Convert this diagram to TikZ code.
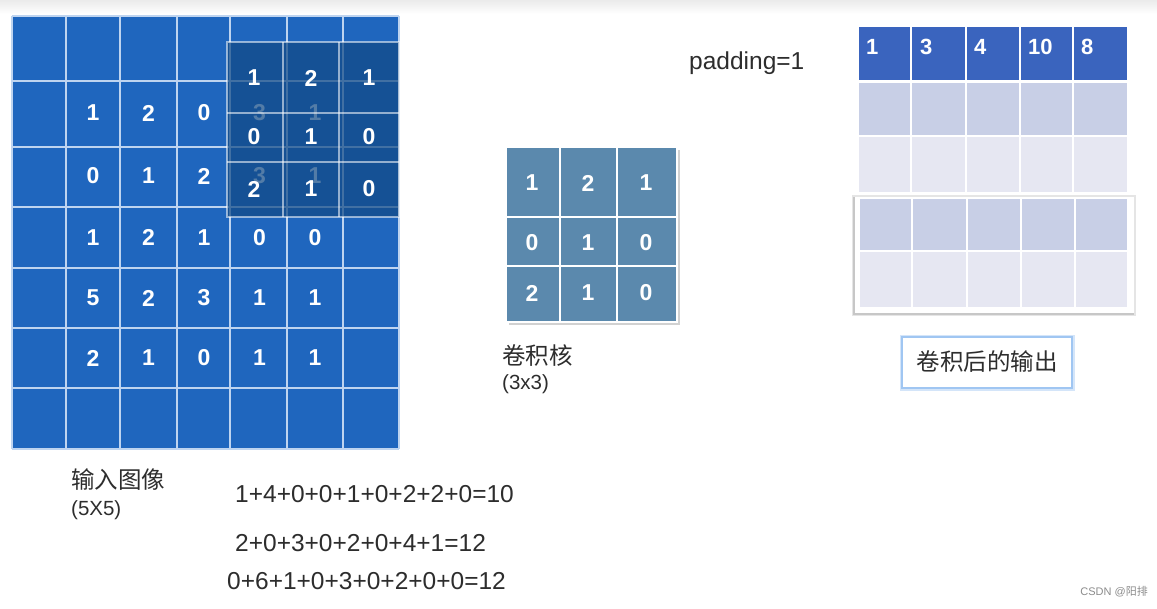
\documentclass[tikz,border=0pt]{standalone}
\usepackage{fontspec}
\setmainfont{Liberation Sans}
\newfontfamily\cjk{Noto Sans CJK SC}
\usetikzlibrary{positioning}

\definecolor{imgblue}{RGB}{31,102,190}
\definecolor{gridline}{RGB}{190,212,240}
\definecolor{kerdark}{RGB}{18,74,134}
\definecolor{kerblue}{RGB}{91,137,173}
\definecolor{outtop}{RGB}{58,100,190}
\definecolor{outmid}{RGB}{200,207,230}
\definecolor{outlow}{RGB}{230,231,242}
\definecolor{txtgray}{RGB}{45,45,45}
\definecolor{glow}{RGB}{160,198,242}

\tikzset{
  numero/.style={text=white, font=\fontsize{23}{26}\selectfont\bfseries, inner sep=0pt},
  outnum/.style={numero, anchor=west, font=\fontsize{22}{25}\selectfont\bfseries},
  etiqueta/.style={text=txtgray, anchor=west, inner sep=0pt, font=\fontsize{23.5}{27}\selectfont\cjk},
  dims/.style={text=txtgray, anchor=west, inner sep=0pt, font=\fontsize{20.5}{24}\selectfont},
  suma/.style={text=txtgray, anchor=west, inner sep=0pt, font=\fontsize{24.5}{28}\selectfont},
  rejilla/.style={white, line width=1.5}
}

\begin{document}
\begin{tikzpicture}[x=1pt,y=-1pt]
    \useasboundingbox (0,0) rectangle (1157,608);
    \fill[white] (0,0) rectangle (1157,608);
    \shade[top color=black!8, bottom color=white] (0,0) rectangle (1157,14);

    % Imagen de entrada con padding (7x7)
    \fill[imgblue] (12,16) rectangle (399,449);
    \foreach \x in {12,66,120,177,230,287,343,399}
      \draw[gridline, line width=1.2] (\x,16) -- (\x,449);
    \foreach \y in {16,81,147,207,268,328,388,449}
      \draw[gridline, line width=1.2] (12,\y) -- (399,\y);

    % Valores de la imagen 5x5
    \foreach \v [count=\c] in {1,2,0,3,1}
      \node[numero] (a1\c) at ({37.5+55.5*\c},113) {\v};
    \foreach \v [count=\c] in {0,1,2,3,1}
      \node[numero] (a2\c) at ({37.5+55.5*\c},176) {\v};
    \foreach \v [count=\c] in {1,2,1,0,0}
      \node[numero] (a3\c) at ({37.5+55.5*\c},237.5) {\v};
    \foreach \v [count=\c] in {5,2,3,1,1}
      \node[numero] (a4\c) at ({37.5+55.5*\c},298) {\v};
    \foreach \v [count=\c] in {2,1,0,1,1}
      \node[numero] (a5\c) at ({37.5+55.5*\c},358) {\v};

    % Nucleo superpuesto sobre la imagen
    \fill[kerdark, opacity=0.72] (227,42) rectangle (399,217);
    \draw[white, opacity=0.55, line width=1.2] (227,42) rectangle (399,217);
    \foreach \x in {283,339}
      \draw[white, opacity=0.55, line width=1.2] (\x,42) -- (\x,217);
    \foreach \y in {113,162}
      \draw[white, opacity=0.55, line width=1.2] (227,\y) -- (399,\y);
    \foreach \v/\x/\y [count=\k] in {1/254/78, 2/311/78, 1/369/78,
                                    0/254/137, 1/311/137, 0/369/137,
                                    2/254/189, 1/311/189, 0/369/189}
      \node[numero] (s\k) at (\x,\y) {\v};

    % Nucleo de convolucion
    \fill[black!18] (509,150) rectangle (680,325);
    \fill[kerblue] (506,147) rectangle (677,322);
    \draw[white, line width=1.5] (506,147) rectangle (677,322);
    \foreach \x in {560,617}
      \draw[rejilla] (\x,147) -- (\x,322);
    \foreach \y in {217,266}
      \draw[rejilla] (506,\y) -- (677,\y);
    \foreach \v/\x/\y [count=\k] in {1/532/183, 2/588/183, 1/646/183,
                                    0/532/243, 1/588/243, 0/646/243,
                                    2/532/293, 1/588/293, 0/646/293}
      \node[numero] (k\k) at (\x,\y) {\v};

    \node[etiqueta] (kname) at (502,356) {卷积核};
    \node[dims] (ksize) at (502,384) {(3x3)};

    \node[suma] (pad) at (689,63) {padding=1};

    % Salida de la convolucion
    \fill[outtop] (859,27) rectangle (1127,80);
    \fill[outmid] (859,83) rectangle (1127,136);
    \fill[outlow] (859,136) rectangle (1127,192);
    \foreach \x in {911,966,1020,1073}
      \draw[rejilla] (\x,27) -- (\x,192);
    \draw[rejilla] (859,81.5) -- (1127,81.5);
    \draw[rejilla] (859,136) -- (1127,136);
    \foreach \v/\x [count=\k] in {1/866, 3/920, 4/974, 10/1028, 8/1081}
      \node[outnum] (o\k) at (\x,47) {\v};

    % Recuadro con sombra
    \fill[black!10] (852,195) rectangle (1136,316);
    \fill[black!22] (853,197) rectangle (1134,315);
    \fill[white] (855,197) rectangle (1134,313);
    \fill[outmid] (860,199) rectangle (1127,251);
    \fill[outlow] (860,251) rectangle (1127,307);
    \foreach \x in {912,967,1021,1075}
      \draw[rejilla] (\x,199) -- (\x,307);
    \draw[rejilla] (860,251) -- (1127,251);

    % Etiqueta de la salida
    \draw[glow!45, line width=5] (902,337) rectangle (1072,388);
    \draw[glow, line width=1.5, fill=white] (902,337) rectangle (1072,388);
    \node[etiqueta, anchor=center] (oname) at (987,362) {卷积后的输出};

    % Etiqueta de la imagen de entrada
    \node[etiqueta] (iname) at (71,480) {输入图像};
    \node[dims] (isize) at (71,510) {(5X5)};

    % Sumas
    \node[suma] (e1) at (235,494) {1+4+0+0+1+0+2+2+0=10};
    \node[suma] (e2) at (235,543) {2+0+3+0+2+0+4+1=12};
    \node[suma] (e3) at (227,581) {0+6+1+0+3+0+2+0+0=12};

    \node[text=black!45, anchor=east, inner sep=0pt, font=\fontsize{11}{13}\selectfont] (csdn) at (1148,592) {CSDN @{\cjk 阳排}};
  \end{tikzpicture}
\end{document}
